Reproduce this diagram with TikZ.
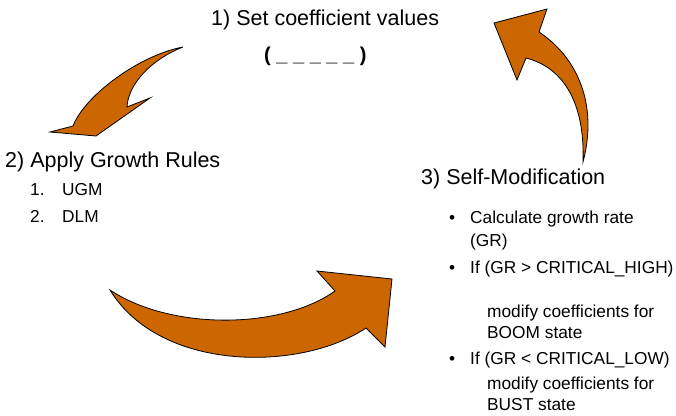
\documentclass[tikz,border=0pt]{standalone}
\usepackage{fontspec}
\setmainfont{Liberation Sans}
\definecolor{arrowbrown}{RGB}{204,102,0}
\tikzset{
  blockarrow/.style={fill=arrowbrown,draw=black,line width=0.8pt,line join=miter},
  headtext/.style={anchor=base west,inner sep=0pt,font=\fontsize{21.5}{24}\selectfont},
  bodytext/.style={anchor=base west,inner sep=0pt,font=\fontsize{17.3}{20}\selectfont},
}
\begin{document}
\begin{tikzpicture}[x=1pt,y=-1pt]
    \useasboundingbox (0,0) rectangle (676,415);
    \draw[blockarrow] (183,47) .. controls (140,55) and (85,95) .. (73,126) -- (50,132) -- (96,136) -- (150,98) -- (127,107) .. controls (128,85) and (150,60) .. (183,47) -- cycle;
    \draw[blockarrow] (110,290) .. controls (170,330) and (280,330) .. (335,291) -- (317,271) -- (392,279) -- (385,347) -- (366,328) .. controls (300,372) and (160,372) .. (110,290) -- cycle;
    \draw[blockarrow] (583,162) .. controls (598,105) and (578,58) .. (539,32) -- (547,9) -- (494,23) -- (517,80) -- (526,58) .. controls (565,68) and (585,105) .. (583,162) -- cycle;
    \node[headtext] (setcoef) at (211,25) {1) Set coefficient values};
    \node[anchor=base west,inner sep=0pt,font=\bfseries\fontsize{20}{22}\selectfont] (blanks) at (264,61) {( \_ \_ \_ \_ \_ )};
    \node[headtext] (apply) at (5,167) {2) Apply Growth Rules};
    \node[bodytext] (ugmnum) at (30,195) {1.};
    \node[bodytext] (ugm) at (62,195) {UGM};
    \node[bodytext] (dlmnum) at (30,222) {2.};
    \node[bodytext] (dlm) at (62,222) {DLM};
    \node[headtext] (selfmod) at (421,184) {3) Self-Modification};
    \node[bodytext] (bulleta) at (449,223) {•};
    \node[bodytext] (calc) at (470,223) {Calculate growth rate};
    \node[bodytext] (calcgr) at (470,246) {(GR)};
    \node[bodytext] (bulletb) at (449,273) {•};
    \node[bodytext] (ifhigh) at (470,273) {If (GR > CRITICAL\_HIGH)};
    \node[bodytext] (boomone) at (487,317) {modify coefficients for};
    \node[bodytext] (boomtwo) at (487,338) {BOOM state};
    \node[bodytext] (bulletc) at (449,364) {•};
    \node[bodytext] (iflow) at (470,364) {If (GR < CRITICAL\_LOW)};
    \node[bodytext] (bustone) at (487,389) {modify coefficients for};
    \node[bodytext] (busttwo) at (487,410) {BUST state};
\end{tikzpicture}
\end{document}
